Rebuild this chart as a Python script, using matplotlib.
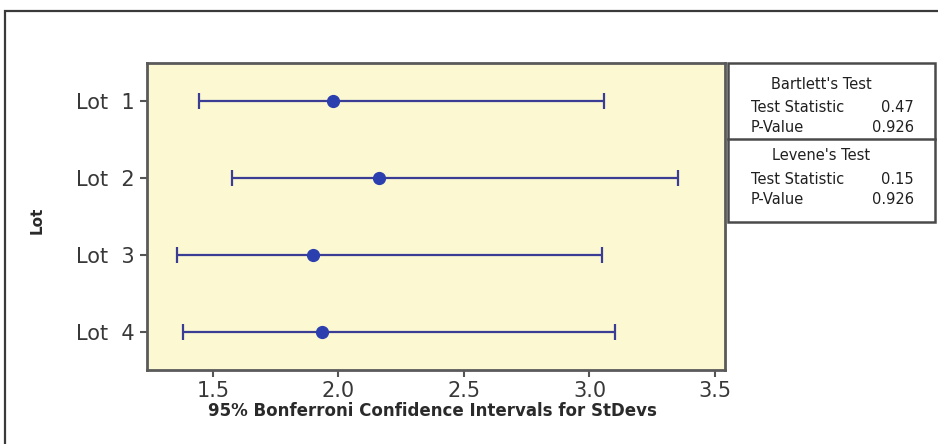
import matplotlib
matplotlib.use("Agg")
import matplotlib.pyplot as plt
from matplotlib.patches import Rectangle
from matplotlib.lines import Line2D

# data
lots = ["Lot  1", "Lot  2", "Lot  3", "Lot  4"]
stdev = [1.978, 2.161, 1.898, 1.934]
lower = [1.444, 1.576, 1.357, 1.380]
upper = [3.058, 3.353, 3.050, 3.100]
xticks = [1.5, 2.0, 2.5, 3.0, 3.5]

bartlett = [("Test Statistic", "0.47"), ("P-Value", "0.926")]
levene = [("Test Statistic", "0.15"), ("P-Value", "0.926")]

W, H = 938, 444
fig = plt.figure(figsize=(W / 100, H / 100), dpi=100)
fig.patch.set_facecolor("white")

def fx(px):
    return px / W

def fy(py):
    return 1 - py / H

# outer frame (runs off the right and bottom of the picture)
fig.patches.append(Rectangle((fx(5), -0.2), 1.2, fy(11) + 0.2, transform=fig.transFigure,
                             fill=False, edgecolor="#3a3a3a", linewidth=1.6))

ax = fig.add_axes([fx(147), fy(370), fx(725) - fx(147), fy(63) - fy(370)])
ax.set_facecolor("#fbf8d2")

pos = list(range(1, len(lots) + 1))
xerr = [[c - l for c, l in zip(stdev, lower)], [u - c for c, u in zip(stdev, upper)]]
ax.errorbar(stdev, pos, xerr=xerr, fmt="o", color="#2c3fae", ecolor="#3b3d94",
            elinewidth=1.6, capsize=6, capthick=1.6, markersize=8.5, zorder=3)

ax.set_xlim(1.237, 3.54)
ax.set_ylim(4.5, 0.5)
ax.set_xticks(xticks)
ax.set_xticklabels([f"{t:.1f}" for t in xticks])
ax.set_yticks(pos)
ax.set_yticklabels(lots)
ax.tick_params(axis="both", labelsize=15, labelcolor="#383838", color="#555555",
               length=5, width=1.5, direction="out")
ax.tick_params(axis="y", pad=4)
ax.tick_params(axis="x", pad=3)
for s in ax.spines.values():
    s.set_color("#5a5a5a")
    s.set_linewidth(2)

fig.text(fx(432), fy(411), "95% Bonferroni Confidence Intervals for StDevs",
         ha="center", va="center", fontsize=12, fontweight="bold", color="#2a2a2a")
fig.text(fx(37), fy(220), "Lot", ha="center", va="center", rotation=90,
         fontsize=11, fontweight="bold", color="#2a2a2a")

# test results box
fig.patches.append(Rectangle((fx(728), fy(222)), fx(935) - fx(728), fy(63) - fy(222),
                             transform=fig.transFigure, fill=False,
                             edgecolor="#4a4a4a", linewidth=1.8))
fig.lines.append(Line2D([fx(728), fx(935)], [fy(139), fy(139)], transform=fig.transFigure,
                        color="#4a4a4a", linewidth=1.8))

def block(title, rows, y0):
    fig.text(fx(821), fy(y0), title, ha="center", va="center", fontsize=10.5, color="#202020")
    for i, (k, v) in enumerate(rows):
        yy = fy(y0 + 23 + i * 20)
        fig.text(fx(751), yy, k, ha="left", va="center", fontsize=10.5, color="#202020")
        fig.text(fx(914), yy, v, ha="right", va="center", fontsize=10.5, color="#202020")

block("Bartlett's Test", bartlett, 84)
block("Levene's Test", levene, 156)

fig.savefig("out.png", dpi=100)
